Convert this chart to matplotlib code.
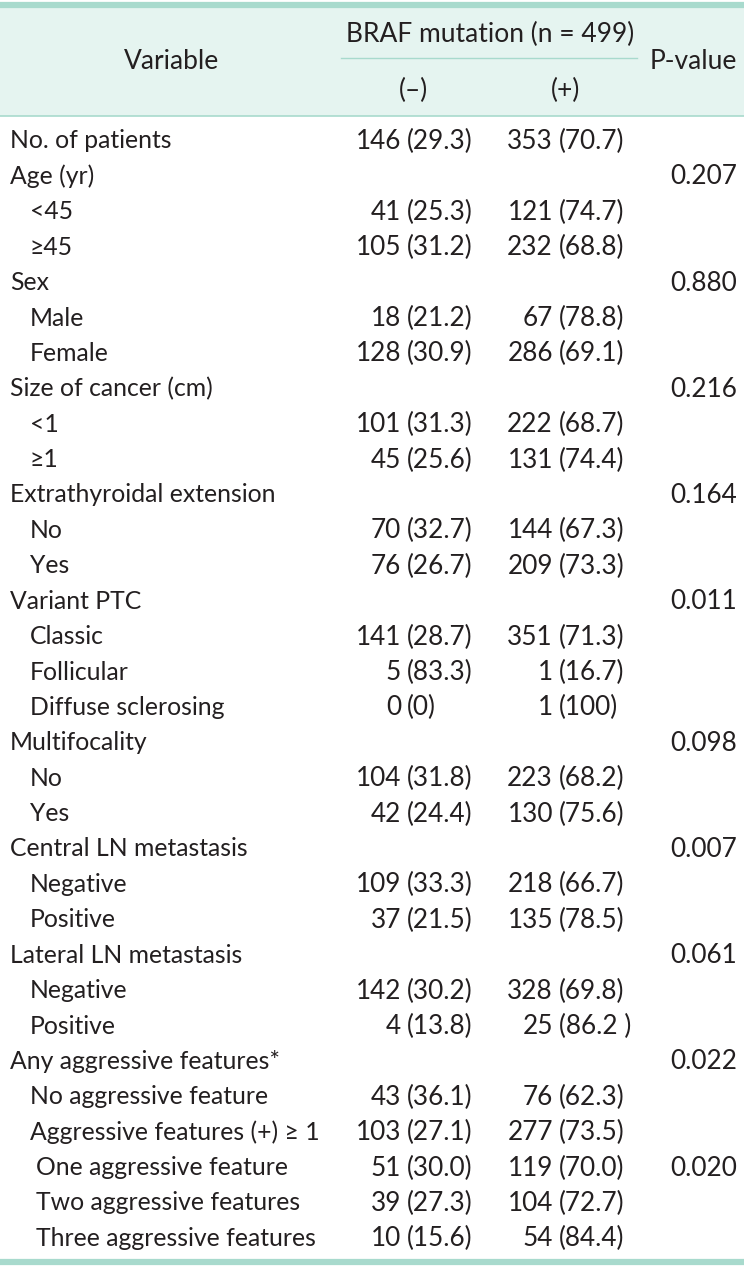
import matplotlib.pyplot as plt

plt.rcParams['font.family'] = ['Lato', 'DejaVu Sans']

# Table content
labels = ['No. of patients', 'Age (yr)', '<45', '≥45', 'Sex', 'Male', 'Female',
          'Size of cancer (cm)', '<1', '≥1', 'Extrathyroidal extension', 'No', 'Yes',
          'Variant PTC', 'Classic', 'Follicular', 'Diffuse sclerosing',
          'Multifocality', 'No', 'Yes', 'Central LN metastasis', 'Negative', 'Positive',
          'Lateral LN metastasis', 'Negative', 'Positive', 'Any aggressive features*',
          'No aggressive feature', 'Aggressive features (+) ≥ 1',
          'One aggressive feature', 'Two aggressive features', 'Three aggressive features']
levels = [0, 0, 1, 1, 0, 1, 1, 0, 1, 1, 0, 1, 1, 0, 1, 1, 1, 0, 1, 1, 0, 1, 1,
          0, 1, 1, 0, 1, 1, 2, 2, 2]
neg_n = ['146', '', '41', '105', '', '18', '128', '', '101', '45', '', '70', '76',
         '', '141', '5', '0', '', '104', '42', '', '109', '37', '', '142', '4', '',
         '43', '103', '51', '39', '10']
neg_pct = ['(29.3)', '', '(25.3)', '(31.2)', '', '(21.2)', '(30.9)', '', '(31.3)', '(25.6)',
           '', '(32.7)', '(26.7)', '', '(28.7)', '(83.3)', '(0)', '', '(31.8)', '(24.4)',
           '', '(33.3)', '(21.5)', '', '(30.2)', '(13.8)', '', '(36.1)', '(27.1)',
           '(30.0)', '(27.3)', '(15.6)']
pos_n = ['353', '', '121', '232', '', '67', '286', '', '222', '131', '', '144', '209',
         '', '351', '1', '1', '', '223', '130', '', '218', '135', '', '328', '25', '',
         '76', '277', '119', '104', '54']
pos_pct = ['(70.7)', '', '(74.7)', '(68.8)', '', '(78.8)', '(69.1)', '', '(68.7)', '(74.4)',
           '', '(67.3)', '(73.3)', '', '(71.3)', '(16.7)', '(100)', '', '(68.2)', '(75.6)',
           '', '(66.7)', '(78.5)', '', '(69.8)', '(86.2 )', '', '(62.3)', '(73.5)',
           '(70.0)', '(72.7)', '(84.4)']
pvalues = ['', '0.207', '', '', '0.880', '', '', '0.216', '', '', '0.164', '', '',
           '0.011', '', '', '', '0.098', '', '', '0.007', '', '', '0.061', '', '',
           '0.022', '', '', '0.020', '', '']

W, H = 744, 1269
fig = plt.figure(figsize=(W / 100, H / 100), dpi=100)
ax = fig.add_axes([0, 0, 1, 1])
ax.set_xlim(0, W)
ax.set_ylim(H, 0)
ax.axis('off')

teal = '#a8dacd'
txt = '#231f20'
fs = 17.8      # labels
fs_num = 18.8  # numbers
fs_head = 19.0  # header

# header band and rules
ax.axhspan(8, 116, color='#e5f4f0', lw=0)
ax.axhline(5, color=teal, lw=4.5)
ax.axhline(116, color=teal, lw=1.2)
ax.plot([341, 637], [58, 58], color=teal, lw=1.0)
ax.axhline(1262, color=teal, lw=4.5)

ax.text(172, 59, 'Variable', fontsize=fs_head, color=txt, ha='center', va='center_baseline')
ax.text(490, 32, 'BRAF mutation (n = 499)', fontsize=fs_head, color=txt, ha='center',
        va='center_baseline')
ax.text(693, 59, 'P-value', fontsize=fs_head, color=txt, ha='center', va='center_baseline')
ax.text(414, 88, '(–)', fontsize=fs_head, color=txt, ha='center', va='center_baseline')
ax.text(566, 88, '(+)', fontsize=fs_head, color=txt, ha='center', va='center_baseline')

indent = {0: 10, 1: 30, 2: 36}
y0, dy = 139, 35.4
for i, lab in enumerate(labels):
    y = y0 + i * dy
    ax.text(indent[levels[i]], y, lab, fontsize=fs, color=txt, ha='left',
            va='center_baseline')
    ax.text(401, y, neg_n[i], fontsize=fs_num, color=txt, ha='right', va='center_baseline')
    ax.text(407, y, neg_pct[i], fontsize=fs_num, color=txt, ha='left', va='center_baseline')
    ax.text(553, y, pos_n[i], fontsize=fs_num, color=txt, ha='right', va='center_baseline')
    ax.text(559, y, pos_pct[i], fontsize=fs_num, color=txt, ha='left', va='center_baseline')
    ax.text(737, y, pvalues[i], fontsize=fs_num, color=txt, ha='right', va='center_baseline')

plt.savefig('out.png', dpi=100)
plt.close()
